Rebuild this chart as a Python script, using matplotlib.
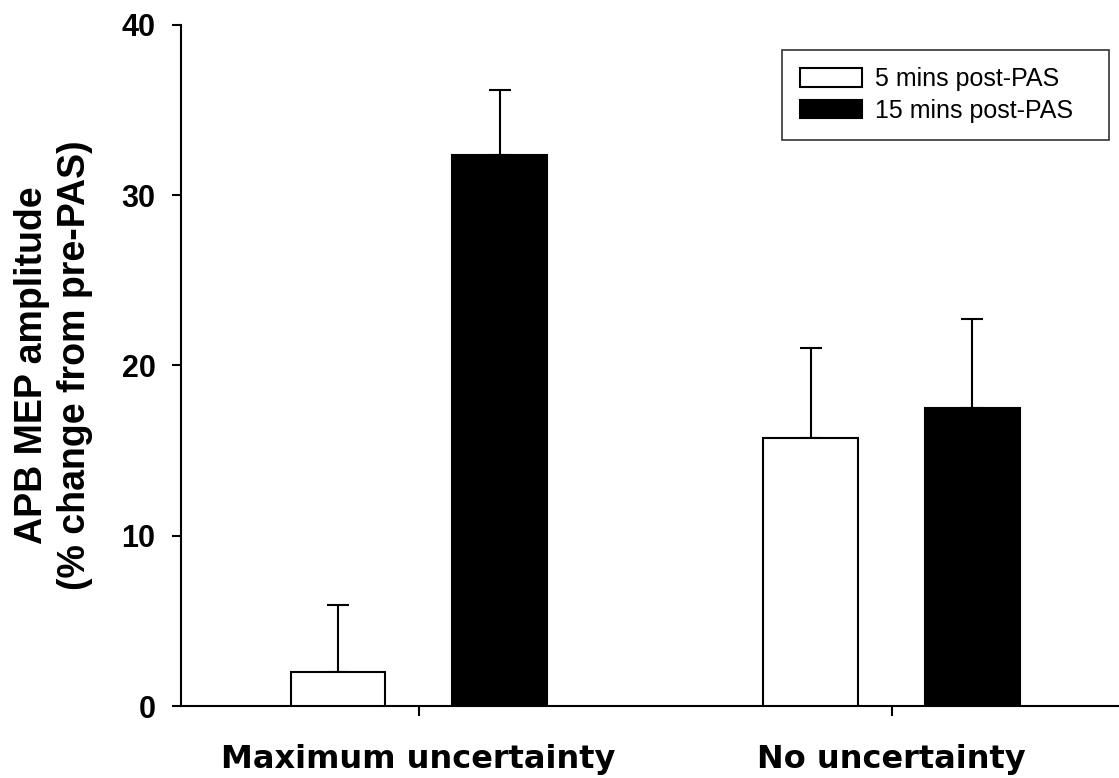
import matplotlib
matplotlib.use("Agg")
import matplotlib.pyplot as plt
import numpy as np

plt.rcParams["font.family"] = ["Liberation Sans", "DejaVu Sans"]

groups = ["Maximum uncertainty", "No uncertainty"]
series = ["5 mins post-PAS", "15 mins post-PAS"]
means_5 = [2.0, 15.75]
sem_5 = [3.95, 5.3]
means_15 = [32.35, 17.5]
sem_15 = [3.85, 5.2]

fig = plt.figure(figsize=(11.19, 7.78), dpi=100)
ax = fig.add_axes([0.162, 0.0925, 0.838, 0.8755])

x = np.arange(len(groups))
width = 0.2
offset = 0.171

for vals, errs, face, lab, sign in [
    (means_5, sem_5, "white", series[0], -1),
    (means_15, sem_15, "black", series[1], 1),
]:
    xs = x + sign * offset
    ax.bar(xs, vals, width=width, color=face, edgecolor="black",
           linewidth=1.5, label=lab, zorder=3)
    ax.errorbar(xs, vals, yerr=[np.zeros(len(errs)), errs], fmt="none",
                ecolor="black", elinewidth=1.5, capsize=8, capthick=1.5,
                zorder=2)

ax.set_xlim(-0.502, 1.481)
ax.set_ylim(0, 40)
ax.set_yticks([0, 10, 20, 30, 40])
ax.set_xticks(x)
# the original has wide letter spacing on the group names
ax.set_xticklabels(groups, fontsize=23, fontweight="bold",
                   family="DejaVu Sans")
for t in ax.get_yticklabels():
    t.set_fontsize(22)
    t.set_fontweight("bold")
ax.tick_params(axis="y", length=6.5, width=1.5, pad=12)
ax.tick_params(axis="x", length=7, width=1.5, pad=20)

for s in ["top", "right"]:
    ax.spines[s].set_visible(False)
for s in ["left", "bottom"]:
    ax.spines[s].set_linewidth(1.5)

ax.set_ylabel("APB MEP amplitude\n(% change from pre-PAS)", fontsize=27,
              fontweight="bold", labelpad=20.5, linespacing=1.26)

# legend box spans a fixed width, extra room goes to the right of the text
leg = ax.legend(loc="upper left", bbox_to_anchor=(0.699, 0.8, 0.292, 0.136),
                bbox_transform=fig.transFigure, borderaxespad=0, mode="expand",
                fontsize=18, frameon=True, fancybox=False, edgecolor="black",
                handlelength=2.48, handleheight=0.76, handletextpad=0.52,
                borderpad=0.7, labelspacing=0.3)
leg.get_frame().set_linewidth(1.2)

fig.savefig("out.png", dpi=100)
